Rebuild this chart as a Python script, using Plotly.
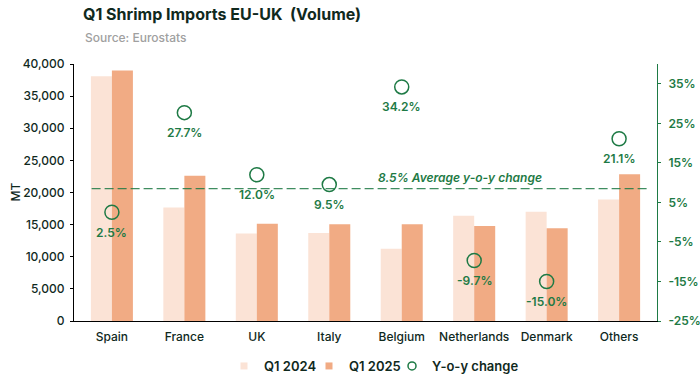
import plotly.graph_objects as go

categories = ["Spain", "France", "UK", "Italy", "Belgium", "Netherlands", "Denmark", "Others"]
q1_2024 = [38100, 17650, 13600, 13700, 11250, 16400, 17000, 18900]
q1_2025 = [39000, 22600, 15150, 15050, 15050, 14800, 14450, 22850]
yoy = [2.5, 27.7, 12.0, 9.5, 34.2, -9.7, -15.0, 21.1]
yoy_labels = ["2.5%", "27.7%", "12.0%", "9.5%", "34.2%", "-9.7%", "-15.0%", "21.1%"]
avg_yoy = 8.5
left_ticks = [0, 5000, 10000, 15000, 20000, 25000, 30000, 35000, 40000]
right_ticks = [-25, -15, -5, 5, 15, 25, 35]
right_tick_labels = [f"{v}%" for v in right_ticks]

GREEN = "#1e7a45"
DARK = "#10291d"
C2024 = "#fbe3d6"
C2025 = "#f1ab84"
FONT = "Inter, Arial, sans-serif"

fig = go.Figure()
fig.add_trace(go.Bar(x=categories, y=q1_2024, name="Q1 2024", marker_color=C2024,
                     marker_line_width=0, showlegend=False))
fig.add_trace(go.Bar(x=categories, y=q1_2025, name="Q1 2025", marker_color=C2025,
                     marker_line_width=0, showlegend=False))
fig.add_trace(go.Scatter(x=categories, y=yoy, name="Y-o-y change", yaxis="y2",
                         mode="markers", showlegend=False,
                         marker=dict(symbol="circle-open", size=14, color=GREEN,
                                     line=dict(width=1.5, color=GREEN))))

# legend entries with small symbols, as in the original, each in its own legend box
legend_px = [224, 309, 392]
for (name, sym, col), lg in zip([("Q1 2024", "square", C2024), ("Q1 2025", "square", C2025),
                                 ("Y-o-y change", "circle-open", GREEN)],
                                ["legend", "legend2", "legend3"]):
    fig.add_trace(go.Scatter(x=[None], y=[None], name=name, mode="markers", legend=lg,
                             marker=dict(symbol=sym, size=7 if sym == "square" else 8,
                                         color=col,
                                         line=dict(width=0 if sym == "square" else 1.5,
                                                   color=col))))

for cat, v, lab in zip(categories, yoy, yoy_labels):
    fig.add_annotation(x=cat, y=v, xref="x", yref="y2", yshift=-20, text=lab,
                       showarrow=False, font=dict(color=GREEN, size=12, family=FONT, weight=600))

fig.add_shape(type="line", xref="x", yref="y2", x0=-0.28, x1=7.38, y0=avg_yoy, y1=avg_yoy,
              line=dict(color=GREEN, width=1.3, dash="9px,4px"), opacity=0.85, layer="above")
fig.add_annotation(x=4.8, y=avg_yoy, xref="x", yref="y2", yshift=11,
                   text=f"<i>{avg_yoy}% Average y-o-y change</i>", showarrow=False,
                   font=dict(color=GREEN, size=12, family=FONT, weight=600))

legend_style = dict(orientation="h", xanchor="left", y=(321 - 366) / 257, yanchor="middle",
                    font=dict(size=13, color=DARK, family=FONT, weight=600),
                    itemwidth=30, tracegroupgap=0, bgcolor="rgba(0,0,0,0)")

fig.update_layout(
    width=700, height=381,
    margin=dict(l=74, r=43, t=64, b=60, autoexpand=False),
    paper_bgcolor="white", plot_bgcolor="white",
    barmode="group", bargap=0.42, bargroupgap=0,
    font=dict(family=FONT, color=DARK, size=12),
    title=dict(text="<b>Q1 Shrimp Imports EU-UK  (Volume)</b>", x=83/700, xanchor="left",
               y=1 - 14/381, yanchor="middle", font=dict(size=16, color=DARK, family=FONT)),
    showlegend=True,
    legend=dict(x=(legend_px[0] - 74) / 583, **legend_style),
    legend2=dict(x=(legend_px[1] - 74) / 583, **legend_style),
    legend3=dict(x=(legend_px[2] - 74) / 583, **legend_style),
    xaxis=dict(showline=True, linecolor="black", linewidth=1, ticks="", showgrid=False,
               automargin=False, ticklabelstandoff=5,
               tickfont=dict(size=12, color=DARK, weight=500)),
    yaxis=dict(range=[0, 40000], tickvals=left_ticks, tickformat=",", showgrid=False,
               showline=True, linecolor="black", linewidth=1, ticks="outside", ticklen=3,
               tickcolor="black", tickfont=dict(size=12, color=DARK, weight=500), automargin=False,
               ticklabelstandoff=3, zeroline=False),
    yaxis2=dict(range=[-25, 40], tickvals=right_ticks, ticktext=right_tick_labels,
                overlaying="y", side="right", showgrid=False, showline=True, linecolor=GREEN,
                linewidth=1, ticks="outside", ticklen=3, tickcolor=GREEN, automargin=False,
                ticklabelstandoff=5, tickfont=dict(size=12, color=GREEN, weight=600),
                zeroline=False),
)
fig.add_annotation(text="MT", xref="paper", yref="paper", x=(15 - 74) / 583, y=0.5,
                   textangle=-90, showarrow=False, xanchor="center", yanchor="middle",
                   font=dict(size=12, color=DARK, family=FONT, weight=500))
fig.add_annotation(text="Source: Eurostats", xref="paper", yref="paper", x=(83 - 74) / 583,
                   y=(321 - 38) / 257, xanchor="left", yanchor="middle", showarrow=False,
                   font=dict(size=12, color="#a0a0a0", family=FONT, weight=500))

fig.write_html("out.html", config={"displayModeBar": False},
               post_script="document.body.style.margin='0';")
